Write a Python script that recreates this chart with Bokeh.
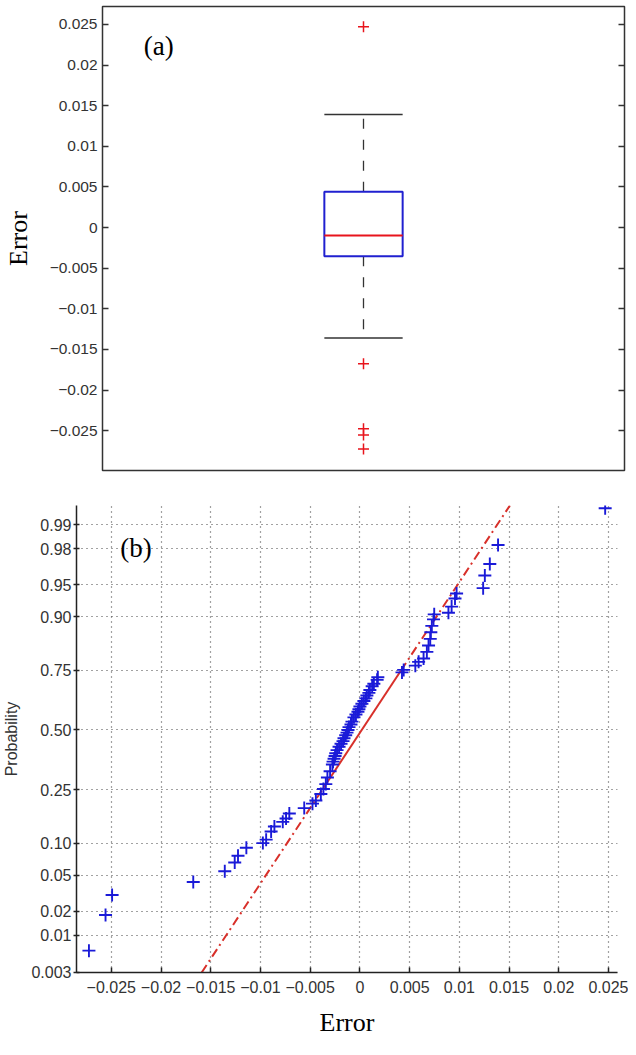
from statistics import NormalDist
from bokeh.plotting import figure
from bokeh.models import Range1d, FixedTicker, CustomJSTickFormatter, LinearAxis, Label
from bokeh.embed import file_html
from bokeh.resources import INLINE

# ---------------- data: panel (a) box plot ----------------
box_q1 = -0.00353
box_median = -0.00098
box_q3 = 0.0044
whisker_low = -0.01359
whisker_high = 0.0139
outliers = [0.0247, -0.01675, -0.02475, -0.02553, -0.02726]
err_ticks = [0.025, 0.02, 0.015, 0.01, 0.005, 0.0, -0.005, -0.01, -0.015, -0.02, -0.025]
err_labels_a = ["0.025", "0.02", "0.015", "0.01", "0.005", "0", "\u22120.005", "\u22120.01",
                "\u22120.015", "\u22120.02", "\u22120.025"]

# ---------------- data: panel (b) normal probability plot ----------------
qq_error = [-0.02725, -0.02558, -0.02492, -0.01676, -0.01359, -0.01259, -0.01226, -0.01142,
            -0.00976, -0.00943, -0.00893, -0.0086, -0.00776, -0.00743, -0.0071, -0.0056,
            -0.00477, -0.00443, -0.00393, -0.00367, -0.00343, -0.00327, -0.003, -0.00277,
            -0.0027, -0.0026, -0.0025, -0.00243, -0.0023, -0.0021, -0.0019, -0.0017, -0.0016,
            -0.00143, -0.0013, -0.0012, -0.0011, -0.0009, -0.0008, -0.0006, -0.0004, -0.0002,
            -0.0001, 0.0, 0.0002, 0.0004, 0.0006, 0.0007, 0.0009, 0.0010, 0.00123, 0.0014,
            0.00173, 0.0018,
            0.00423, 0.0044, 0.00557, 0.0059, 0.0064, 0.00673, 0.0069, 0.00707, 0.00713,
            0.00723, 0.0074, 0.00747, 0.0089, 0.00922, 0.00956, 0.00972, 0.01239, 0.01256,
            0.01306, 0.01389, 0.02466]
qq_prob = [0.0062, 0.018, 0.0307, 0.0425, 0.0548, 0.0667, 0.077, 0.091,
           0.100, 0.107, 0.125, 0.137, 0.149, 0.158, 0.172, 0.188,
           0.202, 0.212, 0.234, 0.252, 0.27, 0.295, 0.32, 0.348,
           0.36, 0.372, 0.384, 0.396, 0.41, 0.425, 0.438, 0.45, 0.463,
           0.476, 0.488, 0.50, 0.513, 0.525, 0.538, 0.557, 0.57, 0.582,
           0.593, 0.605, 0.617, 0.629, 0.64, 0.652, 0.663, 0.675, 0.69, 0.70,
           0.715, 0.725,
           0.743, 0.752, 0.767, 0.78, 0.791, 0.812, 0.831, 0.849, 0.866,
           0.881, 0.895, 0.905, 0.908, 0.919, 0.932, 0.939, 0.946, 0.960,
           0.970, 0.982, 0.994]
ref_q1 = -0.00377   # error at p = 0.25 on the reference line
ref_q3 = 0.00413    # error at p = 0.75 on the reference line
prob_ticks = [0.003, 0.01, 0.02, 0.05, 0.10, 0.25, 0.50, 0.75, 0.90, 0.95, 0.98, 0.99]
prob_labels = ["0.003", "0.01", "0.02", "0.05", "0.10", "0.25", "0.50", "0.75", "0.90",
               "0.95", "0.98", "0.99"]
err_ticks_b = [-0.025, -0.02, -0.015, -0.01, -0.005, 0.0, 0.005, 0.01, 0.015, 0.02, 0.025]
err_labels_b = ["\u22120.025", "\u22120.02", "\u22120.015", "\u22120.01", "\u22120.005", "0",
                "0.005", "0.01", "0.015", "0.02", "0.025"]

SANS = "Liberation Sans"
SERIF = "Liberation Serif"

def fmt(ticks, labels):
    return CustomJSTickFormatter(args=dict(ts=list(ticks), ls=list(labels)), code="""
        let b = 0, d = Infinity;
        for (let i = 0; i < ts.length; i++) {
            const e = Math.abs(ts[i] - tick);
            if (e < d) { d = e; b = i; }
        }
        return ls[b];
    """)

# ---------------- panel (a) ----------------
pa = figure(width=628, height=474, x_range=Range1d(0.5, 1.5), y_range=Range1d(-0.0299, 0.0272),
            output_backend="svg", toolbar_location=None,
            min_border_left=93, min_border_right=4, min_border_top=6, min_border_bottom=4)
pa.xaxis.visible = False
pa.grid.visible = False
pa.outline_line_color = "#333333"
pa.outline_line_width = 1.5
pa.background_fill_color = "white"
pa.border_fill_color = "white"

ya = pa.yaxis[0]
ya.ticker = FixedTicker(ticks=err_ticks)
ya.formatter = fmt(err_ticks, err_labels_a)
ya.major_tick_in = 6
ya.major_tick_out = 0
ya.minor_tick_line_color = None
ya.major_tick_line_color = "#333333"
ya.major_tick_line_width = 1.5
ya.axis_line_color = "#333333"
ya.major_label_text_font = SANS
ya.major_label_text_font_size = "15.5px"
ya.major_label_text_color = "#333333"
ya.major_label_standoff = 5
ya.axis_label = "Error"
ya.axis_label_text_font = SERIF
ya.axis_label_text_font_size = "26px"
ya.axis_label_text_font_style = "normal"
ya.axis_label_text_color = "black"
ya.axis_label_standoff = 14

ra = LinearAxis(ticker=FixedTicker(ticks=err_ticks), formatter=fmt(err_ticks, [""] * len(err_ticks)))
ra.major_tick_in = 6
ra.major_tick_out = 0
ra.minor_tick_line_color = None
ra.major_tick_line_color = "#333333"
ra.major_tick_line_width = 1.5
ra.axis_line_color = None
ra.major_label_standoff = 0
ra.major_label_text_font_size = "1px"
pa.add_layout(ra, "right")

# whiskers
pa.segment(x0=[1, 1], y0=[box_q3, box_q1], x1=[1, 1], y1=[whisker_high, whisker_low],
           line_color="#333333", line_width=1.3, line_dash="10 11")
pa.segment(x0=[0.925, 0.925], y0=[whisker_high, whisker_low], x1=[1.075, 1.075],
           y1=[whisker_high, whisker_low], line_color="#333333", line_width=1.5)
# box
pa.quad(left=[0.925], right=[1.075], bottom=[box_q1], top=[box_q3],
        fill_color=None, line_color="#2020d0", line_width=2)
pa.segment(x0=[0.925], y0=[box_median], x1=[1.075], y1=[box_median],
           line_color="#e8141c", line_width=2)
pa.scatter(x=[1] * len(outliers), y=outliers, marker="cross", size=11,
           line_color="#e8141c", line_width=1.5)
pa.add_layout(Label(x=0.579, y=0.0223, text="(a)", text_font=SERIF, text_font_size="27px",
                    text_baseline="middle", text_align="left", text_color="black"))

# ---------------- panel (b) ----------------
nd = NormalDist()
zq = [nd.inv_cdf(p) for p in qq_prob]
zt = [nd.inv_cdf(p) for p in prob_ticks]
zlo, zhi = -2.748, 2.544

pb = figure(width=628, height=565, x_range=Range1d(-0.0285, 0.0259), y_range=Range1d(zlo, zhi),
            output_backend="svg", toolbar_location=None,
            min_border_left=73, min_border_right=11, min_border_top=31, min_border_bottom=56)
pb.outline_line_color = None
pb.background_fill_color = "white"
pb.border_fill_color = "white"

xb = pb.xaxis[0]
xb.ticker = FixedTicker(ticks=err_ticks_b)
xb.formatter = fmt(err_ticks_b, err_labels_b)
yb = pb.yaxis[0]
yb.ticker = FixedTicker(ticks=zt)
yb.formatter = fmt(zt, prob_labels)
for ax in (xb, yb):
    ax.minor_tick_line_color = None
    ax.major_tick_line_color = "#222222"
    ax.major_tick_line_width = 1.5
    ax.axis_line_color = "#222222"
    ax.axis_line_width = 1.5
    ax.major_label_text_font = SANS
    ax.major_label_text_font_size = "16px"
    ax.major_label_text_color = "#333333"
xb.major_tick_in = 5
xb.major_tick_out = 0
xb.major_label_standoff = 8
yb.major_tick_in = 3
yb.major_tick_out = 3
yb.major_label_standoff = 2

xb.axis_label = "Error"
xb.axis_label_text_font = SERIF
xb.axis_label_text_font_size = "26px"
xb.axis_label_text_font_style = "normal"
xb.axis_label_text_color = "black"
xb.axis_label_standoff = 12
yb.axis_label = "Probability"
yb.axis_label_text_font = SANS
yb.axis_label_text_font_size = "16px"
yb.axis_label_text_font_style = "normal"
yb.axis_label_text_color = "#333333"
yb.axis_label_standoff = 8

pb.xgrid.ticker = FixedTicker(ticks=err_ticks_b)
pb.ygrid.ticker = FixedTicker(ticks=zt)
pb.grid.grid_line_color = "#444444"
pb.grid.grid_line_dash = "1 4"
pb.grid.grid_line_width = 1.2

# reference line through the quartiles
zq1, zq3 = nd.inv_cdf(0.25), nd.inv_cdf(0.75)
slope = (ref_q3 - ref_q1) / (zq3 - zq1)
def ref_x(z):
    return ref_q1 + (z - zq1) * slope
pb.line(x=[ref_x(zlo), ref_q1], y=[zlo, zq1], line_color="#d8302a", line_width=2, line_dash="9 4 2 4")
pb.line(x=[ref_q3, ref_x(zhi)], y=[zq3, zhi], line_color="#d8302a", line_width=2, line_dash="9 4 2 4")
pb.line(x=[ref_q1, ref_q3], y=[zq1, zq3], line_color="#d8302a", line_width=2)

pb.scatter(x=qq_error, y=zq, marker="cross", size=13, line_color="#1a1ad8", line_width=1.9)
pb.add_layout(Label(x=-0.02409, y=2.063, text="(b)", text_font=SERIF, text_font_size="27px",
                    text_baseline="middle", text_align="left", text_color="black"))

open("out.html", "w").write(file_html([pa, pb], INLINE))
